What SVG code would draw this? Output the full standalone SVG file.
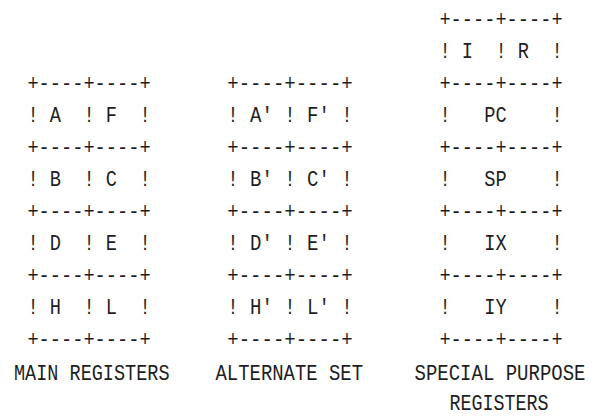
<svg xmlns="http://www.w3.org/2000/svg" width="593" height="418" viewBox="0 0 593 418" xml:space="preserve">
<style>
text{font-family:"Liberation Mono","DejaVu Sans Mono",monospace;font-size:22px;fill:#1e1e1e;white-space:pre}
text.narrow{font-size:19px}
</style>
<rect width="593" height="418" fill="#ffffff"/>
<g id="main-registers">
<text x="27.4" y="89.5" textLength="123.2" lengthAdjust="spacingAndGlyphs">+----+----+</text>
<text x="27.4" y="121.5" textLength="123.2" lengthAdjust="spacingAndGlyphs">! A  ! F  !</text>
<text x="27.4" y="153.5" textLength="123.2" lengthAdjust="spacingAndGlyphs">+----+----+</text>
<text x="27.4" y="185.5" textLength="123.2" lengthAdjust="spacingAndGlyphs">! B  ! C  !</text>
<text x="27.4" y="217.5" textLength="123.2" lengthAdjust="spacingAndGlyphs">+----+----+</text>
<text x="27.4" y="249.5" textLength="123.2" lengthAdjust="spacingAndGlyphs">! D  ! E  !</text>
<text x="27.4" y="281.5" textLength="123.2" lengthAdjust="spacingAndGlyphs">+----+----+</text>
<text x="27.4" y="313.5" textLength="123.2" lengthAdjust="spacingAndGlyphs">! H  ! L  !</text>
<text x="27.4" y="345.5" textLength="123.2" lengthAdjust="spacingAndGlyphs">+----+----+</text>
<text x="14" y="379.5" textLength="155.5" lengthAdjust="spacingAndGlyphs">MAIN REGISTERS</text>
</g>
<g id="alternate-set">
<text x="227.3" y="89.5" textLength="125.4" lengthAdjust="spacingAndGlyphs">+----+----+</text>
<text x="227.3" y="121.5" textLength="125.4" lengthAdjust="spacingAndGlyphs">! A' ! F' !</text>
<text x="227.3" y="153.5" textLength="125.4" lengthAdjust="spacingAndGlyphs">+----+----+</text>
<text x="227.3" y="185.5" textLength="125.4" lengthAdjust="spacingAndGlyphs">! B' ! C' !</text>
<text x="227.3" y="217.5" textLength="125.4" lengthAdjust="spacingAndGlyphs">+----+----+</text>
<text x="227.3" y="249.5" textLength="125.4" lengthAdjust="spacingAndGlyphs">! D' ! E' !</text>
<text x="227.3" y="281.5" textLength="125.4" lengthAdjust="spacingAndGlyphs">+----+----+</text>
<text x="227.3" y="313.5" textLength="125.4" lengthAdjust="spacingAndGlyphs">! H' ! L' !</text>
<text x="227.3" y="345.5" textLength="125.4" lengthAdjust="spacingAndGlyphs">+----+----+</text>
<text x="215.5" y="379.5" textLength="147.5" lengthAdjust="spacingAndGlyphs">ALTERNATE SET</text>
</g>
<g id="special-purpose-registers">
<text x="439.4" y="25.5" textLength="123.2" lengthAdjust="spacingAndGlyphs">+----+----+</text>
<text x="439.4" y="57.5" textLength="123.2" lengthAdjust="spacingAndGlyphs">! I  ! R  !</text>
<text x="439.4" y="89.5" textLength="123.2" lengthAdjust="spacingAndGlyphs">+----+----+</text>
<text x="439.4" y="121.5" textLength="123.2" lengthAdjust="spacingAndGlyphs">!   PC    !</text>
<text x="439.4" y="153.5" textLength="123.2" lengthAdjust="spacingAndGlyphs">+----+----+</text>
<text x="439.4" y="185.5" textLength="123.2" lengthAdjust="spacingAndGlyphs">!   SP    !</text>
<text x="439.4" y="217.5" textLength="123.2" lengthAdjust="spacingAndGlyphs">+----+----+</text>
<text x="439.4" y="249.5" textLength="123.2" lengthAdjust="spacingAndGlyphs">!   IX    !</text>
<text x="439.4" y="281.5" textLength="123.2" lengthAdjust="spacingAndGlyphs">+----+----+</text>
<text x="439.4" y="313.5" textLength="123.2" lengthAdjust="spacingAndGlyphs">!   IY    !</text>
<text x="439.4" y="345.5" textLength="123.2" lengthAdjust="spacingAndGlyphs">+----+----+</text>
<text class="narrow" transform="translate(414.5,379.5) scale(1,1.158)" x="0" y="0" textLength="171" lengthAdjust="spacingAndGlyphs">SPECIAL PURPOSE</text>
<text x="449.5" y="409.5" textLength="99" lengthAdjust="spacingAndGlyphs">REGISTERS</text>
</g>
</svg>
